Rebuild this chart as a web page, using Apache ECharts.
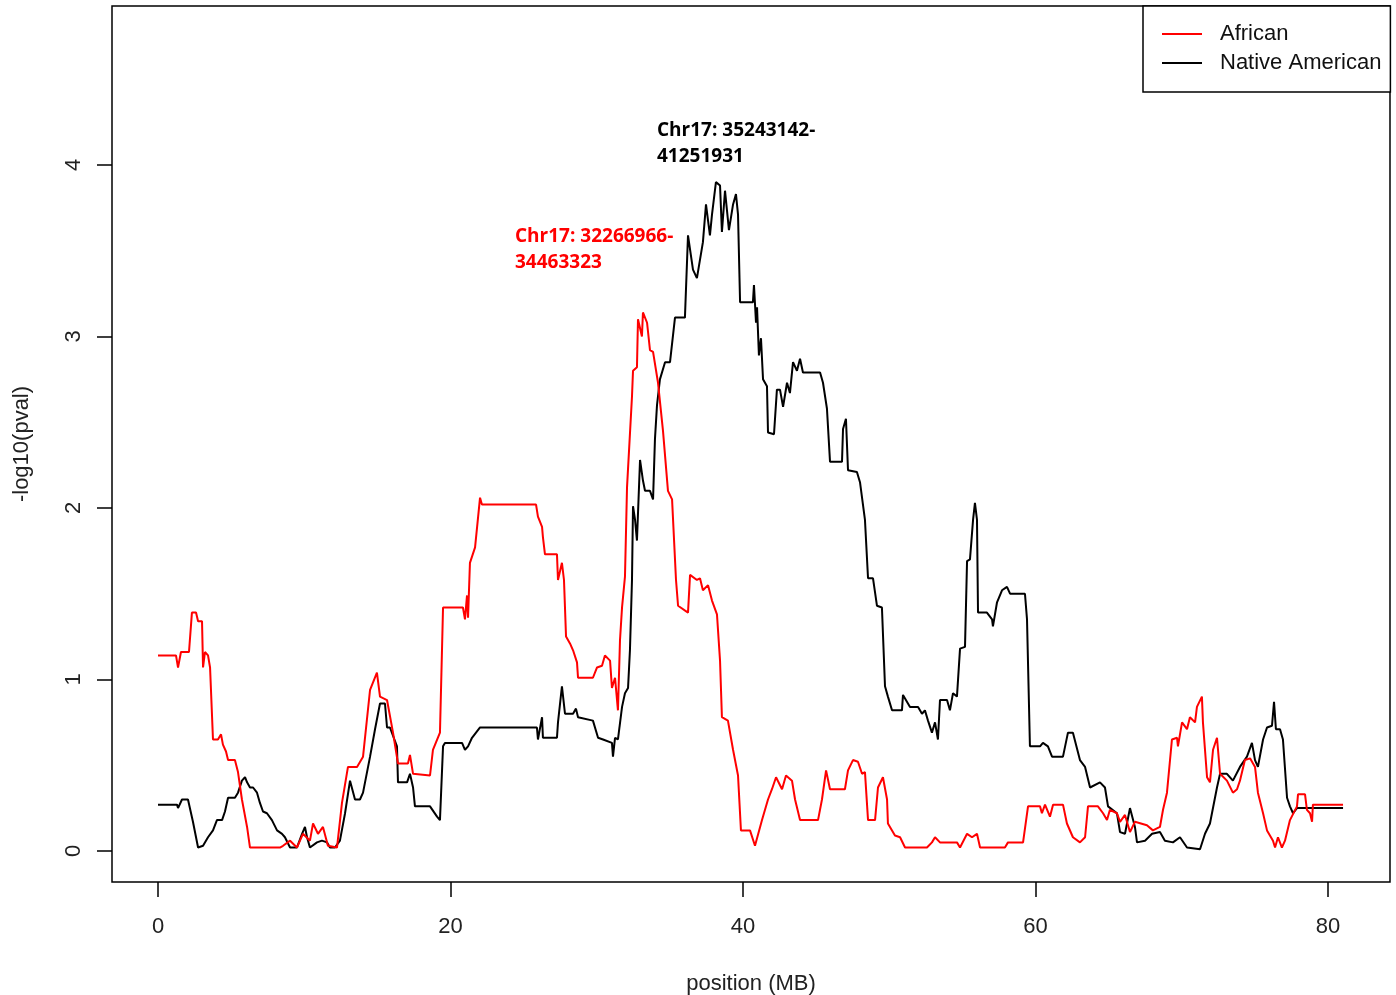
<!DOCTYPE html>
<html>
	<head>
		<meta charset="utf-8">
		<title></title>
		<script src="https://cdn.jsdelivr.net/npm/echarts@6/dist/echarts.min.js"></script>
	</head>
	<body style="margin:0;background:#fff">
		<div id="main" style="width:1396px;height:995px;"></div>
		<script type="text/javascript">
		// tick labels
		var xTicks = [0, 20, 40, 60, 80];
		var yTicks = [0, 1, 2, 3, 4];

		// African (red) : position in MB / -log10(pval)
		var africanPos = [0,1.23,1.37,1.57,2.12,2.32,2.60,2.74,3.01,3.08,3.21,3.42,3.56,3.76,4.10,4.31,4.44,4.65,4.79,5.26,5.47,5.74,6.09,6.29,8.34,8.55,9.03,9.50,9.91,10.39,10.60,10.94,11.28,11.62,12.24,12.58,12.99,13.61,14.02,14.50,14.97,15.18,15.66,16.07,16.41,17.09,17.23,17.44,18.60,18.80,19.28,19.49,20.85,20.99,21.13,21.20,21.33,21.68,22.02,22.15,25.85,25.98,26.26,26.32,26.46,27.28,27.35,27.62,27.76,27.90,28.17,28.38,28.65,28.72,29.74,30.02,30.36,30.56,30.91,31.04,31.25,31.45,31.59,31.73,31.93,32.07,32.41,32.48,32.75,32.82,33.09,33.16,33.44,33.64,33.85,34.19,34.53,34.87,35.15,35.42,35.56,36.24,36.38,36.85,37.06,37.26,37.61,37.88,38.22,38.43,38.56,38.97,39.32,39.66,39.86,40.48,40.82,41.30,41.71,41.98,42.26,42.67,42.94,43.35,43.56,43.90,45.13,45.40,45.68,45.95,46.97,47.18,47.52,47.86,48.14,48.34,48.55,49.03,49.23,49.57,49.85,49.91,50.39,50.74,51.08,52.58,52.92,53.13,53.47,54.15,54.63,54.84,55.32,55.66,56.00,56.21,57.91,58.12,59.15,59.49,60.31,60.44,60.65,60.99,61.20,61.88,62.15,62.56,63.04,63.39,63.59,64.27,64.62,64.89,65.09,65.57,65.78,66.12,66.46,66.80,67.62,68.03,68.51,68.72,68.99,69.33,69.68,69.74,70.02,70.36,70.56,70.91,71.04,71.38,71.45,71.73,71.93,72.14,72.41,72.62,73.09,73.50,73.78,73.98,74.32,74.67,75.01,75.21,75.56,75.83,76.24,76.38,76.58,76.85,77.06,77.40,77.88,77.95,78.43,78.56,78.77,78.91,78.97,81.03];
		var africanVal = [1.14,1.14,1.07,1.16,1.16,1.39,1.39,1.34,1.34,1.07,1.16,1.14,1.07,0.65,0.65,0.68,0.62,0.58,0.53,0.53,0.46,0.30,0.14,0.02,0.02,0.03,0.06,0.02,0.10,0.06,0.16,0.10,0.14,0.03,0.02,0.28,0.49,0.49,0.55,0.94,1.04,0.90,0.88,0.69,0.51,0.51,0.56,0.45,0.44,0.59,0.69,1.42,1.42,1.35,1.49,1.36,1.68,1.77,2.06,2.02,2.02,1.95,1.89,1.83,1.73,1.73,1.58,1.68,1.58,1.25,1.21,1.17,1.10,1.01,1.01,1.07,1.08,1.14,1.11,0.95,1.01,0.82,1.23,1.42,1.60,2.12,2.65,2.80,2.82,3.10,3.00,3.14,3.08,2.92,2.91,2.73,2.45,2.10,2.05,1.58,1.43,1.39,1.61,1.58,1.59,1.52,1.55,1.46,1.38,1.11,0.78,0.76,0.59,0.44,0.12,0.12,0.03,0.18,0.30,0.36,0.43,0.36,0.44,0.41,0.30,0.18,0.18,0.30,0.47,0.36,0.36,0.47,0.53,0.52,0.45,0.46,0.18,0.18,0.37,0.43,0.30,0.16,0.09,0.08,0.02,0.02,0.05,0.08,0.05,0.05,0.05,0.02,0.10,0.08,0.10,0.02,0.02,0.05,0.05,0.26,0.26,0.22,0.27,0.20,0.27,0.27,0.16,0.08,0.05,0.08,0.26,0.26,0.22,0.18,0.24,0.22,0.17,0.21,0.11,0.17,0.15,0.12,0.14,0.24,0.34,0.65,0.66,0.61,0.75,0.71,0.78,0.75,0.84,0.90,0.75,0.43,0.40,0.59,0.66,0.45,0.41,0.34,0.36,0.41,0.53,0.54,0.49,0.34,0.22,0.12,0.06,0.02,0.08,0.02,0.06,0.18,0.26,0.33,0.33,0.24,0.22,0.17,0.27,0.27];

		// Native American (black)
		var nativePos = [0,1.30,1.37,1.64,2.05,2.39,2.74,3.08,3.42,3.76,4.03,4.38,4.58,4.79,5.26,5.47,5.74,5.95,6.09,6.29,6.50,6.77,6.97,7.18,7.45,7.79,8.14,8.48,8.68,9.03,9.50,9.85,10.05,10.19,10.39,10.87,11.21,11.56,11.76,12.10,12.44,12.79,13.13,13.47,13.81,14.02,14.50,14.84,15.18,15.52,15.66,15.86,16.34,16.41,17.03,17.23,17.44,17.57,18.60,19.08,19.28,19.49,19.62,20.79,20.99,21.20,21.47,22.02,25.91,25.98,26.26,26.32,27.28,27.35,27.62,27.83,28.38,28.58,28.72,29.74,30.09,30.43,31.04,31.11,31.25,31.45,31.73,31.93,32.14,32.27,32.41,32.48,32.62,32.75,32.96,33.16,33.30,33.64,33.85,33.98,34.12,34.32,34.67,35.01,35.35,36.03,36.24,36.58,36.85,37.26,37.47,37.74,37.88,38.15,38.43,38.56,38.77,39.04,39.32,39.52,39.66,39.80,40.68,40.75,40.89,40.96,41.09,41.23,41.37,41.64,41.71,42.12,42.32,42.53,42.74,43.01,43.21,43.42,43.69,43.90,44.10,45.27,45.47,45.74,45.95,46.77,46.84,47.04,47.18,47.79,48.00,48.34,48.55,48.89,49.16,49.50,49.71,49.91,50.19,50.87,50.94,51.42,51.97,52.24,52.44,52.65,52.92,53.13,53.33,53.47,53.95,54.15,54.36,54.63,54.84,55.18,55.32,55.52,55.73,55.86,56.00,56.07,56.68,57.03,57.09,57.37,57.71,58.05,58.26,59.28,59.42,59.62,60.31,60.51,60.85,61.13,61.88,62.22,62.56,63.04,63.39,63.73,64.41,64.75,64.96,65.57,65.78,66.12,66.46,66.80,66.94,67.49,67.97,68.51,68.85,69.40,69.88,70.36,71.25,71.59,71.93,72.41,72.62,73.09,73.50,73.98,74.46,74.80,75.01,75.21,75.56,75.83,76.17,76.31,76.44,76.72,76.92,77.20,77.40,77.61,77.88,78.97,81.03];
		var nativeVal = [0.27,0.27,0.25,0.30,0.30,0.17,0.02,0.03,0.08,0.12,0.18,0.18,0.23,0.31,0.31,0.34,0.41,0.43,0.40,0.37,0.37,0.34,0.28,0.23,0.22,0.18,0.12,0.10,0.08,0.02,0.02,0.10,0.14,0.08,0.02,0.05,0.06,0.05,0.02,0.02,0.06,0.22,0.41,0.30,0.30,0.34,0.55,0.71,0.86,0.86,0.72,0.72,0.61,0.40,0.40,0.45,0.37,0.26,0.26,0.20,0.18,0.61,0.63,0.63,0.59,0.61,0.66,0.72,0.72,0.65,0.78,0.66,0.66,0.75,0.96,0.80,0.80,0.83,0.78,0.76,0.66,0.65,0.63,0.55,0.66,0.65,0.84,0.92,0.95,1.17,1.58,2.01,1.93,1.81,2.28,2.16,2.10,2.10,2.05,2.40,2.60,2.75,2.85,2.85,3.11,3.11,3.59,3.39,3.34,3.55,3.77,3.59,3.71,3.90,3.88,3.61,3.85,3.62,3.77,3.83,3.71,3.20,3.20,3.30,3.08,3.17,2.89,2.99,2.75,2.71,2.44,2.43,2.69,2.69,2.59,2.73,2.67,2.85,2.80,2.87,2.79,2.79,2.73,2.58,2.27,2.27,2.46,2.52,2.22,2.21,2.15,1.93,1.59,1.59,1.43,1.42,0.96,0.90,0.82,0.82,0.91,0.84,0.84,0.80,0.82,0.76,0.69,0.75,0.65,0.88,0.88,0.82,0.92,0.90,1.18,1.19,1.69,1.70,1.93,2.03,1.93,1.39,1.39,1.35,1.31,1.45,1.52,1.54,1.50,1.50,1.35,0.61,0.61,0.63,0.61,0.55,0.55,0.69,0.69,0.53,0.49,0.37,0.40,0.37,0.26,0.22,0.11,0.10,0.25,0.14,0.05,0.06,0.10,0.11,0.06,0.05,0.08,0.02,0.01,0.10,0.16,0.37,0.45,0.45,0.41,0.49,0.55,0.63,0.53,0.49,0.65,0.72,0.73,0.87,0.71,0.71,0.65,0.31,0.26,0.22,0.25,0.25,0.25];

		function zip(a, b) {
			var out = [];
			for (var i = 0; i < a.length; i++) out.push([a[i], b[i]]);
			return out;
		}

		var myChart = echarts.init(document.getElementById('main'));
		var font = 'Liberation Sans, Arial, sans-serif';

		myChart.setOption({
			animation: false,
			grid: {
				left: 112, top: 6, width: 1278, height: 876,
				outerBoundsMode: 'none',
				show: true, borderColor: '#000', borderWidth: 1.5, backgroundColor: 'transparent'
			},
			legend: {
				data: ['African', 'Native American'],
				orient: 'vertical',
				left: 1143, top: 6,
				padding: [17, 9, 18, 19],
				itemWidth: 40, itemHeight: 2, itemGap: 7,
				icon: 'rect',
				borderColor: '#000', borderWidth: 1.5,
				backgroundColor: '#fff',
				textStyle: { fontFamily: font, fontSize: 22, lineHeight: 22, color: '#111', padding: [0, 0, 0, 13] }
			},
			xAxis: {
				type: 'value',
				min: -3.145, max: 84.24,
				name: 'position (MB)', nameLocation: 'middle', nameGap: 91,
				nameTextStyle: { fontFamily: font, fontSize: 22, color: '#222' },
				axisLine: { show: false, onZero: false },
				axisTick: { show: true, inside: false, length: 15, customValues: xTicks, lineStyle: { color: '#000', width: 1.5 } },
				axisLabel: { customValues: xTicks, margin: 34, fontFamily: font, fontSize: 22, color: '#222' },
				splitLine: { show: false }
			},
			yAxis: {
				type: 'value',
				min: -0.181, max: 4.927,
				name: '-log10(pval)', nameLocation: 'middle', nameGap: 79,
				nameTextStyle: { fontFamily: font, fontSize: 22, color: '#222' },
				axisLine: { show: false, onZero: false },
				axisTick: { show: true, inside: false, length: 15, customValues: yTicks, lineStyle: { color: '#000', width: 1.5 } },
				axisLabel: { customValues: yTicks, rotate: 90, margin: 27, fontFamily: font, fontSize: 22, color: '#222' },
				splitLine: { show: false }
			},
			graphic: [
				{ type: 'text', left: 657, top: 118, style: { text: 'Chr17: 35243142-\n41251931', fill: '#000', font: 'bold 19px "Open Sans", "Liberation Sans", sans-serif', lineHeight: 26 } },
				{ type: 'text', left: 515, top: 224, style: { text: 'Chr17: 32266966-\n34463323', fill: '#ff0000', font: 'bold 19px "Open Sans", "Liberation Sans", sans-serif', lineHeight: 26 } }
			],
			series: [
				{
					name: 'Native American',
					type: 'line',
					data: zip(nativePos, nativeVal),
					showSymbol: false, symbol: 'none',
					itemStyle: { color: '#000' },
					lineStyle: { color: '#000', width: 2 }
				},
				{
					name: 'African',
					type: 'line',
					data: zip(africanPos, africanVal),
					showSymbol: false, symbol: 'none',
					itemStyle: { color: '#ff0000' },
					lineStyle: { color: '#ff0000', width: 2 }
				}
			]
		});
		</script>
	</body>
</html>
